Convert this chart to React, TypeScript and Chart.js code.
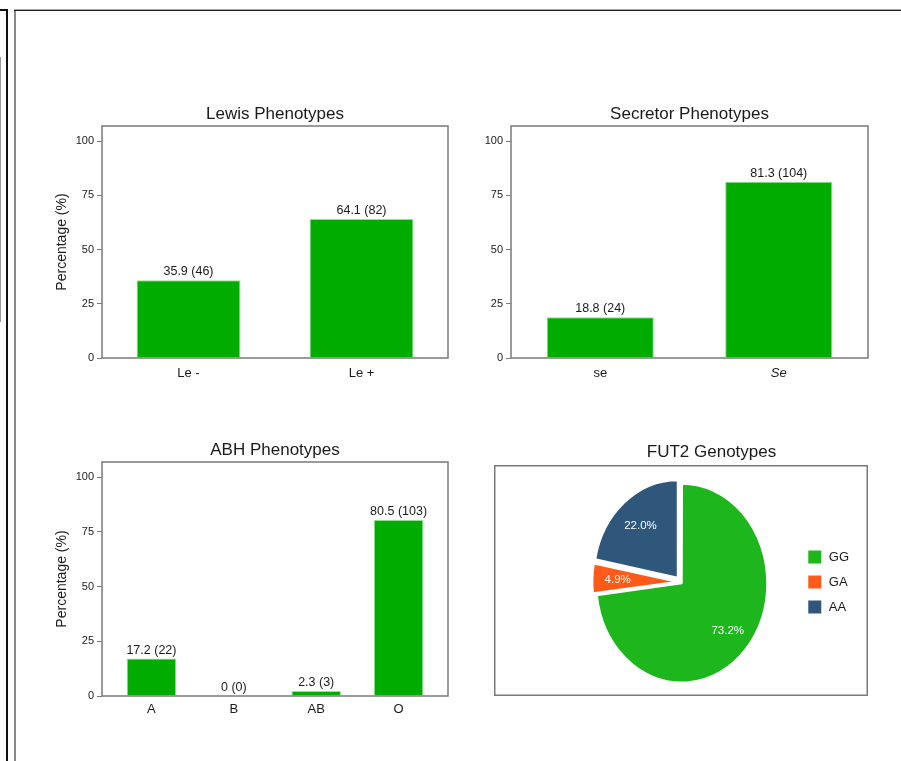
import React, { useEffect, useRef } from 'react';
import { Chart, registerables } from 'chart.js';

Chart.register(...registerables);

// ---------- data ----------
const yTickValues = [0, 25, 50, 75, 100];
const yMax = 107;

const lewisLabels = ['Le -', 'Le +'];
const lewisPct = [35.9, 64.1];
const lewisN = [46, 82];

const secretorLabels = ['se', 'Se'];
const secretorItalic = [false, true];
const secretorPct = [18.8, 81.3];
const secretorN = [24, 104];

const abhLabels = ['A', 'B', 'AB', 'O'];
const abhPct = [17.2, 0, 2.3, 80.5];
const abhN = [22, 0, 3, 103];

const fut2Labels = ['GG', 'GA', 'AA'];
const fut2Pct = [73.2, 4.9, 22.0];

// ---------- styles ----------
const FONT = '"Liberation Sans", Arial, Helvetica, sans-serif';
const TEXT = '#1a1a1a';
const FRAME = '#7a7a7a';
const BAR_FILL = '#00AC00';
const BAR_EDGE = '#8fe08f';
const fut2Colors = ['#1DB71D', '#FF5A1A', '#2F577C'];
const fut2Offsets = [6, 10, 18];

const framePlugin = {
  id: 'frame',
  afterDatasetsDraw(chart: any) {
    const { ctx, chartArea: a } = chart;
    ctx.save();
    ctx.strokeStyle = FRAME;
    ctx.lineWidth = 1.5;
    ctx.strokeRect(a.left, a.top, a.right - a.left, a.bottom - a.top);
    ctx.restore();
  },
};

const barLabelPlugin = {
  id: 'barLabels',
  afterDatasetsDraw(chart: any, _args: any, opts: any) {
    const { ctx } = chart;
    const meta = chart.getDatasetMeta(0);
    ctx.save();
    ctx.font = `12.5px ${FONT}`;
    ctx.fillStyle = TEXT;
    ctx.textAlign = 'center';
    ctx.textBaseline = 'bottom';
    meta.data.forEach((bar: any, i: number) => {
      ctx.fillText(`${opts.pct[i]} (${opts.n[i]})`, bar.x, bar.y - 2);
    });
    ctx.restore();
  },
};

const pieFramePlugin = {
  id: 'pieFrame',
  afterDraw(chart: any, _args: any, opts: any) {
    const { ctx } = chart;
    const top = (chart.titleBlock ? chart.titleBlock.bottom : 0) - (opts.inset || 0);
    ctx.save();
    ctx.strokeStyle = FRAME;
    ctx.lineWidth = 1.5;
    ctx.strokeRect(0.75, top + 0.75, chart.width - 1.5, chart.height - top - 1.5);
    ctx.restore();
  },
};

const pieStretchPlugin = {
  id: 'pieStretch',
  beforeDatasetsDraw(chart: any, _args: any, opts: any) {
    const meta = chart.getDatasetMeta(0);
    const cy = meta.data[0].y;
    const { ctx } = chart;
    ctx.save();
    ctx.translate(0, cy);
    ctx.scale(1, opts.scaleY);
    ctx.translate(0, -cy);
  },
  afterDatasetsDraw(chart: any, _args: any, opts: any) {
    const { ctx } = chart;
    ctx.restore();
    const meta = chart.getDatasetMeta(0);
    ctx.save();
    ctx.font = `11.5px ${FONT}`;
    ctx.fillStyle = '#ffffff';
    ctx.textAlign = 'center';
    ctx.textBaseline = 'middle';
    meta.data.forEach((arc: any, i: number) => {
      const { x, y, startAngle, endAngle, outerRadius } = arc;
      const mid = (startAngle + endAngle) / 2;
      const r = outerRadius * opts.labelRadius;
      ctx.fillText(`${fut2Pct[i].toFixed(1)}%`, x + Math.cos(mid) * r, y + Math.sin(mid) * r * opts.scaleY);
    });
    ctx.restore();
  },
};

type BarOpts = {
  labels: string[];
  pct: number[];
  n: number[];
  title: string;
  yTitle: boolean;
  yAxisWidth: number;
  xAxisHeight: number;
  xPad: number;
  padRight: number;
  linearX?: boolean;
  italic?: boolean[];
};

function barConfig(p: BarOpts): any {
  const data = p.linearX ? p.pct.map((y, i) => ({ x: i, y })) : p.pct;
  const xScale: any = p.linearX
    ? {
        type: 'linear',
        offset: false,
        min: -0.6,
        max: p.labels.length - 1 + 0.6,
        afterBuildTicks: (s: any) => {
          s.ticks = p.labels.map((_l, i) => ({ value: i }));
        },
        ticks: {
          color: TEXT,
          padding: p.xPad,
          autoSkip: false,
          maxRotation: 0,
          font: { family: FONT, size: 13 },
          callback: (v: number) => p.labels[v] ?? '',
        },
      }
    : {
        type: 'category',
        offset: true,
        ticks: {
          color: TEXT,
          padding: p.xPad,
          maxRotation: 0,
          font: (c: any) => ({
            family: FONT,
            size: 13,
            style: p.italic && p.italic[c.index] ? 'italic' : 'normal',
          }),
        },
      };
  xScale.grid = { display: false, drawTicks: false, offset: !p.linearX };
  xScale.border = { display: false };
  xScale.afterFit = (s: any) => {
    s.height = p.xAxisHeight;
  };

  return {
    type: 'bar',
    data: {
      labels: p.linearX ? undefined : p.labels,
      datasets: [
        {
          data,
          backgroundColor: BAR_FILL,
          borderColor: BAR_EDGE,
          borderWidth: 1,
          barPercentage: 0.6,
          categoryPercentage: 1,
        },
      ],
    },
    options: {
      responsive: false,
      animation: false,
      events: [],
      layout: { padding: { left: 0, right: p.padRight, top: 0, bottom: 0 } },
      scales: {
        x: xScale,
        y: {
          min: 0,
          max: yMax,
          afterBuildTicks: (s: any) => {
            s.ticks = yTickValues.map((v) => ({ value: v }));
          },
          afterFit: (s: any) => {
            s.width = p.yAxisWidth;
          },
          grid: { drawOnChartArea: false, drawTicks: true, tickLength: 5, color: FRAME, lineWidth: 1 },
          border: { display: false },
          ticks: { color: TEXT, padding: 3, font: { family: FONT, size: 11 } },
          title: p.yTitle
            ? {
                display: true,
                text: 'Percentage (%)',
                color: TEXT,
                font: { family: FONT, size: 14 },
                padding: { top: 13.6, bottom: 0 },
              }
            : { display: false },
        },
      },
      plugins: {
        legend: { display: false },
        tooltip: { enabled: false },
        title: {
          display: true,
          text: p.title,
          color: TEXT,
          fullSize: false,
          font: { family: FONT, size: 17, weight: 'normal' },
          padding: { top: 14, bottom: 1.6 },
        },
        barLabels: { pct: p.pct, n: p.n },
      },
    },
    plugins: [framePlugin, barLabelPlugin],
  };
}

function pieConfig(): any {
  return {
    type: 'pie',
    data: {
      labels: fut2Labels,
      datasets: [
        {
          data: fut2Pct,
          backgroundColor: fut2Colors,
          borderColor: '#ffffff',
          borderWidth: 2,
          offset: fut2Offsets,
          radius: 84,
        },
      ],
    },
    options: {
      responsive: false,
      animation: false,
      events: [],
      radius: 84,
      layout: { padding: { left: 70, right: 9, top: 3, bottom: 0 } },
      plugins: {
        tooltip: { enabled: false },
        title: {
          display: true,
          text: 'FUT2 Genotypes',
          color: TEXT,
          font: { family: FONT, size: 17, weight: 'normal' },
          padding: { top: 8.8, bottom: 5.8 },
        },
        legend: {
          position: 'right',
          fullSize: false,
          labels: {
            boxWidth: 15,
            boxHeight: 15,
            padding: 10,
            color: TEXT,
            font: { family: FONT, size: 13 },
          },
        },
        pieFrame: { inset: 3 },
        pieStretch: { scaleY: 1.165, labelRadius: 0.75 },
      },
    },
    plugins: [pieFramePlugin, pieStretchPlugin],
  };
}

function ChartCanvas(props: { make: () => any; left: number; top: number; width: number; height: number }) {
  const ref = useRef<HTMLCanvasElement>(null);
  useEffect(() => {
    const chart = new Chart(ref.current as HTMLCanvasElement, props.make());
    return () => chart.destroy();
  }, []);
  return (
    <canvas
      ref={ref}
      width={props.width}
      height={props.height}
      style={{ position: 'absolute', left: props.left, top: props.top, width: props.width, height: props.height }}
    />
  );
}

function Line(props: { left: number; top: number; width: number; height: number; color: string }) {
  return (
    <div
      style={{
        position: 'absolute',
        left: props.left,
        top: props.top,
        width: props.width,
        height: props.height,
        background: props.color,
      }}
    />
  );
}

export default function App() {
  return (
    <div
      style={{
        position: 'absolute',
        left: 0,
        top: 0,
        width: 901,
        height: 761,
        background: '#ffffff',
        overflow: 'hidden',
      }}
    >
      <Line left={0} top={9} width={8} height={2} color="#111" />
      <Line left={6} top={9} width={2} height={752} color="#111" />
      <Line left={0} top={57} width={1} height={265} color="#999" />
      <Line left={14} top={10} width={2} height={751} color="#888" />
      <Line left={14} top={9} width={887} height={1} color="#aaa" />
      <Line left={14} top={10} width={887} height={1} color="#222" />

      <ChartCanvas
        left={40}
        top={90}
        width={420}
        height={300}
        make={() =>
          barConfig({
            labels: lewisLabels,
            pct: lewisPct,
            n: lewisN,
            title: 'Lewis Phenotypes',
            yTitle: true,
            yAxisWidth: 62,
            xAxisHeight: 32,
            xPad: 8,
            padRight: 12,
          })
        }
      />
      <ChartCanvas
        left={460}
        top={90}
        width={420}
        height={300}
        make={() =>
          barConfig({
            labels: secretorLabels,
            pct: secretorPct,
            n: secretorN,
            title: 'Secretor Phenotypes',
            yTitle: false,
            yAxisWidth: 51,
            xAxisHeight: 32,
            xPad: 8,
            padRight: 12,
            italic: secretorItalic,
          })
        }
      />
      <ChartCanvas
        left={40}
        top={426}
        width={420}
        height={300}
        make={() =>
          barConfig({
            labels: abhLabels,
            pct: abhPct,
            n: abhN,
            title: 'ABH Phenotypes',
            yTitle: true,
            yAxisWidth: 62,
            xAxisHeight: 30,
            xPad: 6,
            padRight: 12,
            linearX: true,
          })
        }
      />
      <ChartCanvas left={494} top={430} width={374} height={266} make={pieConfig} />
    </div>
  );
}
